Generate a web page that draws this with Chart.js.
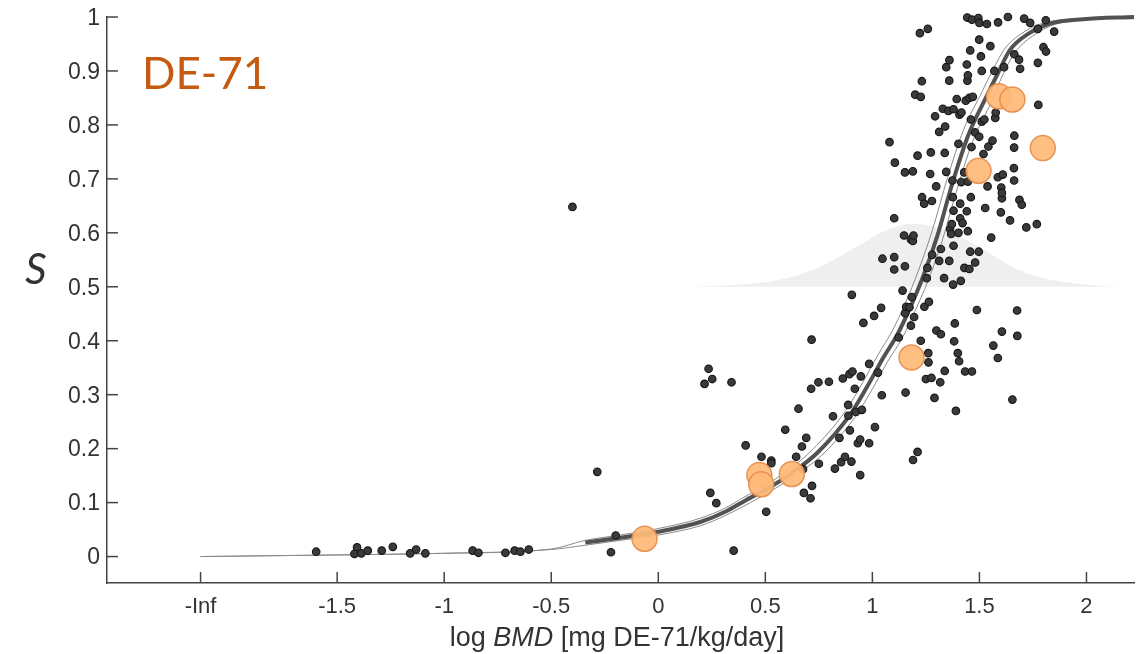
<!DOCTYPE html>
<html><head><meta charset="utf-8">
<script src="https://cdn.jsdelivr.net/npm/chart.js@4.4.1/dist/chart.umd.min.js"></script>
<style>html,body{margin:0;padding:0;background:#fff;}#wrap{width:1139px;height:654px;}</style>
</head><body><div id="wrap"><canvas id="c" width="1139" height="654"></canvas></div>
<script>
const xTickValues = [-2.138, -1.5, -1, -0.5, 0, 0.5, 1, 1.5, 2];
const xTickLabels = ['-Inf', '-1.5', '-1', '-0.5', '0', '0.5', '1', '1.5', '2'];
const yTickValues = [0, 0.1, 0.2, 0.3, 0.4, 0.5, 0.6, 0.7, 0.8, 0.9, 1];
const yTickLabels = ['0', '0.1', '0.2', '0.3', '0.4', '0.5', '0.6', '0.7', '0.8', '0.9', '1'];

const studyX = [-1.598,-1.407,-1.419,-1.387,-1.357,-1.292,-1.240,-1.159,-1.131,-1.088,-0.867,-0.840,-0.714,-0.671,-0.644,-0.605,-0.401,-0.285,-0.221,-0.199,
0.216,0.235,0.243,0.252,0.271,0.342,0.352,0.408,0.482,0.504,0.528,0.528,0.593,0.644,0.655,0.671,0.676,0.680,0.691,0.711,0.714,0.716,0.718,0.748,0.750,0.797,0.816,0.825,0.846,0.854,0.862,0.872,0.887,0.888,0.893,0.895,0.902,0.904,0.907,0.918,0.923,0.932,0.943,0.943,0.946,0.951,0.958,0.985,0.985,1.008,1.012,1.026,1.041,1.044,1.047,1.080,1.102,1.102,1.102,1.105,1.123,1.141,1.148,1.152,1.152,1.153,1.155,1.158,1.173,1.180,1.180,1.184,1.189,1.189,1.190,1.192,1.195,1.200,1.211,1.211,1.222,1.226,1.226,1.231,1.232,1.242,1.243,1.250,1.254,1.257,1.259,1.261,1.262,1.264,1.270,1.273,1.276,1.278,1.279,1.290,1.293,1.298,1.299,1.312,1.312,1.317,1.320,1.320,1.329,1.335,1.338,1.338,1.340,1.345,1.345,1.355,1.359,1.359,1.360,1.363,1.368,1.371,1.374,1.376,1.377,1.379,1.379,1.379,1.382,1.385,1.390,1.394,1.399,1.402,1.402,1.405,1.407,1.410,1.410,1.413,1.415,1.416,1.421,1.429,1.430,1.433,1.436,1.441,1.441,1.443,1.444,1.446,1.446,1.446,1.453,1.453,1.457,1.457,1.460,1.460,1.463,1.465,1.465,1.469,1.480,1.480,1.488,1.495,1.497,1.499,1.499,1.500,1.507,1.511,1.511,1.519,1.523,1.527,1.535,1.538,1.542,1.551,1.555,1.561,1.565,1.570,1.574,1.576,1.586,1.586,1.587,1.600,1.602,1.605,1.605,1.605,1.609,1.615,1.633,1.643,1.654,1.661,1.662,1.662,1.663,1.663,1.676,1.677,1.685,1.687,1.690,1.698,1.709,1.719,1.737,1.768,1.773,1.773,1.775,1.799,1.810,1.811,1.849];
const studyS = [0.009,0.017,0.005,0.006,0.011,0.011,0.018,0.006,0.013,0.006,0.011,0.007,0.007,0.011,0.009,0.013,0.648,0.157,0.008,0.039,
0.320,0.348,0.118,0.329,0.099,0.323,0.011,0.206,0.185,0.083,0.178,0.173,0.235,0.185,0.274,0.204,0.162,0.118,0.220,0.108,0.311,0.402,0.131,0.323,0.172,0.324,0.260,0.163,0.220,0.175,0.330,0.185,0.281,0.261,0.338,0.234,0.176,0.485,0.343,0.311,0.268,0.210,0.217,0.151,0.334,0.272,0.433,0.357,0.210,0.446,0.240,0.341,0.461,0.299,0.552,0.768,0.627,0.555,0.532,0.730,0.406,0.493,0.595,0.538,0.712,0.451,0.304,0.463,0.462,0.428,0.588,0.481,0.585,0.714,0.179,0.595,0.444,0.856,0.194,0.743,0.970,0.400,0.852,0.881,0.666,0.654,0.463,0.329,0.516,0.535,0.978,0.377,0.360,0.472,0.709,0.749,0.331,0.659,0.559,0.294,0.816,0.686,0.419,0.548,0.787,0.323,0.412,0.570,0.830,0.516,0.344,0.748,0.797,0.907,0.713,0.826,0.548,0.882,0.920,0.607,0.598,0.616,0.697,0.666,0.504,0.641,0.576,0.829,0.399,0.432,0.270,0.848,0.377,0.600,0.765,0.362,0.819,0.654,0.627,0.511,0.694,0.823,0.618,0.712,0.535,0.343,0.845,0.640,0.912,0.999,0.882,0.603,0.892,0.695,0.533,0.850,0.565,0.938,0.666,0.810,0.759,0.343,0.995,0.852,0.545,0.786,0.457,0.998,0.565,0.958,0.778,0.989,0.927,0.900,0.806,0.746,0.810,0.646,0.987,0.686,0.760,0.946,0.591,0.771,0.391,0.900,0.813,0.823,0.368,0.703,0.990,0.638,0.684,0.664,0.674,0.417,0.708,0.907,1.000,0.623,0.291,0.720,0.697,0.758,0.780,0.931,0.456,0.409,0.921,0.661,0.904,0.652,0.997,0.610,0.989,0.616,0.978,0.915,0.837,0.944,0.994,0.936,0.973];

const bmdX = [-0.064, 0.472, 0.481, 0.624, 1.183, 1.496, 1.591, 1.654, 1.796];
const bmdS = [0.033, 0.151, 0.134, 0.153, 0.369, 0.715, 0.853, 0.847, 0.757];

const curveX = [-0.341,-0.177,0.000,0.196,0.313,0.411,0.523,0.616,0.742,0.896,0.980,1.050,1.116,1.176,1.237,1.303,1.373,1.447,1.536,1.583,1.643,1.737,1.830,1.984,2.222];
const curveS = [0.026,0.035,0.046,0.064,0.083,0.105,0.129,0.153,0.192,0.263,0.318,0.368,0.411,0.461,0.519,0.594,0.691,0.780,0.855,0.893,0.939,0.971,0.988,0.996,1.000];

const upperX = [-2.138,-1.5,-1.0,-0.5,-0.341,-0.177,0,0.196,0.313,0.400,0.500,0.600,0.720,0.875,0.958,1.028,1.094,1.154,1.215,1.281,1.351,1.425,1.513,1.560,1.620,1.715,1.810,1.984,2.222];
const upperS = [0,0.003,0.006,0.014,0.030,0.040,0.052,0.071,0.090,0.110,0.132,0.158,0.198,0.270,0.325,0.375,0.419,0.470,0.530,0.606,0.702,0.790,0.862,0.900,0.942,0.974,0.990,0.997,1.000];
const lowerX = [-2.138,-1.5,-1.0,-0.5,-0.341,-0.177,0,0.196,0.313,0.430,0.545,0.638,0.764,0.918,1.002,1.072,1.138,1.198,1.259,1.325,1.395,1.469,1.560,1.606,1.666,1.760,1.850,1.984,2.222];
const lowerS = [0,0.003,0.006,0.013,0.021,0.030,0.040,0.057,0.076,0.100,0.126,0.150,0.188,0.258,0.312,0.362,0.404,0.454,0.510,0.584,0.680,0.770,0.846,0.890,0.934,0.968,0.986,0.995,1.000];

const densX = [0.149,0.383,0.570,0.724,0.836,0.943,1.060,1.186,1.293,1.457,1.597,1.690,1.830,2.063,2.190];
const densS = [0.500,0.504,0.513,0.532,0.554,0.578,0.604,0.617,0.611,0.583,0.550,0.530,0.513,0.502,0.500];

const zip = (xs, ys) => xs.map((x, i) => ({x: x, y: ys[i]}));
const FONT = "'Liberation Sans', Arial, sans-serif";

const decor = {
  id: 'decor',
  afterDraw(chart) {
    const {ctx, chartArea: a} = chart;
    const xs = chart.scales.x, ys = chart.scales.y;
    ctx.save();
    ctx.strokeStyle = '#444'; ctx.lineWidth = 1.5;
    xTickValues.forEach(v => { const p = xs.getPixelForValue(v); ctx.beginPath(); ctx.moveTo(p, a.bottom); ctx.lineTo(p, a.bottom - 11); ctx.stroke(); });
    yTickValues.forEach(v => { const p = ys.getPixelForValue(v); ctx.beginPath(); ctx.moveTo(a.left, p); ctx.lineTo(a.left + 11, p); ctx.stroke(); });
    ctx.fillStyle = '#333';
    ctx.textBaseline = 'alphabetic';
    const sz = 27;
    const parts = [['log ', ''], ['BMD', 'italic '], [' [mg DE-71/kg/day]', '']];
    let tot = 0;
    parts.forEach(p => { ctx.font = p[1] + sz + 'px ' + FONT; tot += ctx.measureText(p[0]).width; });
    let cx = 617 - tot / 2;
    ctx.textAlign = 'left';
    parts.forEach(p => { ctx.font = p[1] + sz + 'px ' + FONT; ctx.fillText(p[0], cx, 646); cx += ctx.measureText(p[0]).width; });
    ctx.font = "italic 42px Lato, 'Open Sans', sans-serif";
    ctx.textAlign = 'center';
    ctx.fillStyle = '#333';
    ctx.fillText('S', 36, 284);
    ctx.font = "44px Lato, 'Open Sans', sans-serif";
    ctx.textAlign = 'left';
    ctx.fillStyle = '#C55A11';
    ctx.fillText('DE-71', 142, 89);
    ctx.restore();
  }
};

new Chart(document.getElementById('c'), {
  type: 'scatter',
  data: {
    datasets: [
      {data: zip(bmdX, bmdS), order: 1, pointRadius: 12.5, backgroundColor: 'rgba(255,186,120,0.93)', borderColor: 'rgba(228,140,72,0.9)', borderWidth: 1.5, clip: false},
      {data: zip(studyX, studyS), order: 2, pointRadius: 3.8, backgroundColor: '#3a3a3a', borderColor: '#151515', borderWidth: 1.1, clip: false},
      {data: zip(curveX, curveS), order: 3, showLine: true, pointRadius: 0, borderColor: '#525252', borderWidth: 4, cubicInterpolationMode: 'monotone', clip: false},
      {data: zip(upperX, upperS), order: 4, showLine: true, pointRadius: 0, borderColor: '#8a8a8a', borderWidth: 1, cubicInterpolationMode: 'monotone', clip: false},
      {data: zip(lowerX, lowerS), order: 5, showLine: true, pointRadius: 0, borderColor: '#8a8a8a', borderWidth: 1, cubicInterpolationMode: 'monotone', clip: false},
      {data: zip(densX, densS), order: 6, showLine: true, pointRadius: 0, borderWidth: 0, borderColor: 'rgba(0,0,0,0)', backgroundColor: '#efefef', fill: {value: 0.5}, cubicInterpolationMode: 'monotone'}
    ]
  },
  options: {
    responsive: false,
    animation: false,
    events: [],
    layout: {autoPadding: false, padding: {left: 0, right: 5, top: 17, bottom: 0}},
    plugins: {legend: {display: false}, tooltip: {enabled: false}},
    scales: {
      x: {
        type: 'linear', min: -2.575, max: 2.222,
        afterBuildTicks: s => { s.ticks = xTickValues.map(v => ({value: v})); },
        afterFit: s => { s.height = 71; s.paddingLeft = 0; s.paddingRight = 0; },
        ticks: {callback: (v, i) => xTickLabels[i], font: {family: FONT, size: 22}, color: '#333', padding: 11, autoSkip: false, maxRotation: 0},
        grid: {display: false, drawTicks: false},
        border: {display: true, color: '#444', width: 1.5}
      },
      y: {
        type: 'linear', min: -0.049, max: 1.0,
        afterBuildTicks: s => { s.ticks = yTickValues.map(v => ({value: v})); },
        afterFit: s => { s.width = 107; s.paddingTop = 0; s.paddingBottom = 0; },
        ticks: {callback: (v, i) => yTickLabels[i], font: {family: FONT, size: 23}, color: '#333', padding: 7, autoSkip: false, labelOffset: 1.5},
        grid: {display: false, drawTicks: false},
        border: {display: true, color: '#444', width: 1.5}
      }
    }
  },
  plugins: [decor]
});
</script></body></html>
